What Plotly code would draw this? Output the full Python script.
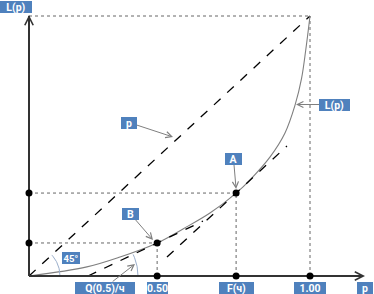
import numpy as np
import plotly.graph_objects as go

# ---- data ----
lorenz_p = [0.0, 0.206, 0.324, 0.456, 0.548, 0.644, 0.737, 0.786, 0.858, 0.911, 0.947, 0.970, 0.985, 1.0]
lorenz_L = [0.0, 0.035, 0.073, 0.127, 0.181, 0.242, 0.319, 0.369, 0.458, 0.550, 0.658, 0.760, 0.870, 1.0]
point_B = [0.456, 0.127]
point_A = [0.737, 0.319]
tangent_B_p = [0.210, 0.619]
tangent_A_p = [0.491, 0.918]
slope_A = 1.0
tick_p = [0.456, 0.737, 1.0]
tick_labels = ["0.50", "F(ч)", "1.00"]
other_labels = ["Q(0.5)/ч", "p", "L(p)", "45°", "A", "B"]

# ---- geometry helpers (pixel <-> data) ----
OX, OY, SX, SY = 29, 276, 281, 260
W, H = 374, 294
def px(x): return (x - OX) / SX
def py(y): return (OY - y) / SY

xr = [px(0), px(W)]
yr = [py(H), py(0)]

BLUE = "#4F81BD"
GRAY = "#7f7f7f"

fig = go.Figure()

# diagonal p
fig.add_trace(go.Scatter(x=[0, 1], y=[0, 1], mode="lines",
                         line=dict(color="black", width=1.3, dash="dash")))
# dotted guide lines
guides = [([0, 1], [1, 1]), ([1, 1], [0, 1]),
          ([0, point_A[0]], [point_A[1]] * 2), ([point_A[0]] * 2, [0, point_A[1]]),
          ([0, point_B[0]], [point_B[1]] * 2), ([point_B[0]] * 2, [0, point_B[1]])]
for gx, gy in guides:
    fig.add_trace(go.Scatter(x=gx, y=gy, mode="lines",
                             line=dict(color="#666666", width=1, dash="dot")))

# Lorenz curve
fig.add_trace(go.Scatter(x=lorenz_p, y=lorenz_L, mode="lines", line_shape="spline",
                         line=dict(color=GRAY, width=1.1, smoothing=1.0)))

# tangent at B
slope_B = point_B[1] / (point_B[0] - tangent_B_p[0])
tb_y = [point_B[1] + slope_B * (p - point_B[0]) for p in tangent_B_p]
fig.add_trace(go.Scatter(x=tangent_B_p, y=tb_y, mode="lines",
                         line=dict(color="black", width=1.3, dash="dash")))
# tangent at A
ta_y = [point_A[1] + slope_A * (p - point_A[0]) for p in tangent_A_p]
fig.add_trace(go.Scatter(x=tangent_A_p, y=ta_y, mode="lines",
                         line=dict(color="black", width=1.3, dash="dash")))

# angle arcs (drawn in pixel space)
def arc(cx, cy, r, a1):
    t = np.linspace(0, a1, 30)
    return (cx + r * np.cos(t) / SX, cy + r * np.sin(t) / SY)
ang45 = np.arctan(SY / SX)
ax1, ay1 = arc(0, 0, 31, ang45)
fig.add_trace(go.Scatter(x=ax1, y=ay1, mode="lines", line=dict(color="#9aaecb", width=1)))
angB = np.arctan(slope_B * SY / SX)
ax2, ay2 = arc(tangent_B_p[0], 0, 50, angB)
fig.add_trace(go.Scatter(x=ax2, y=ay2, mode="lines", line=dict(color="#9aaecb", width=1)))

# axes lines
fig.add_trace(go.Scatter(x=[0, px(363)], y=[0, 0], mode="lines", line=dict(color="#333333", width=2)))
fig.add_trace(go.Scatter(x=[0, 0], y=[0, py(16)], mode="lines", line=dict(color="#333333", width=2)))

# dots
dot_x = [0, 0] + tick_p + [point_A[0], point_B[0]]
dot_y = [point_A[1], point_B[1], 0, 0, 0, point_A[1], point_B[1]]
fig.add_trace(go.Scatter(x=dot_x, y=dot_y, mode="markers",
                         marker=dict(color="black", size=7)))

ann = []
# axis arrow heads
ann.append(dict(x=px(365), y=0, ax=px(340), ay=0, xref="x", yref="y", axref="x", ayref="y",
                text="", showarrow=True, arrowhead=5, arrowsize=1.1, arrowwidth=1.5, arrowcolor="#333333"))
ann.append(dict(x=0, y=py(15), ax=0, ay=py(40), xref="x", yref="y", axref="x", ayref="y",
                text="", showarrow=True, arrowhead=5, arrowsize=1.1, arrowwidth=1.5, arrowcolor="#333333"))

def box(text, cx, cy, w, tip=None, size=10.5):
    d = dict(text="<b>" + text + "</b>", xref="x", yref="y", bgcolor=BLUE,
             font=dict(family="Roboto", size=size, color="white"),
             width=w, height=12, valign="middle", borderpad=0, borderwidth=0, align="center")
    if tip is None:
        d.update(x=px(cx), y=py(cy), showarrow=False)
    else:
        d.update(x=tip[0], y=tip[1], ax=px(cx), ay=py(cy), axref="x", ayref="y",
                 showarrow=True, arrowhead=5, arrowsize=1.2, arrowwidth=1, arrowcolor=GRAY)
    ann.append(d)

box("L(p)", 16, 6.5, 32)
box(other_labels[2], 334.5, 104.5, 31, tip=(px(296), py(104.5)))
box(other_labels[1], 129, 122.5, 16, tip=(px(173), py(137)))
box(other_labels[4], 233.5, 159, 17, tip=(point_A[0], py(189)))
box(other_labels[5], 130.5, 214, 17, tip=(px(153), py(240)))
box(other_labels[3], 71, 258, 18, size=9.5)
box(other_labels[0], 105, 287.5, 60, tip=(px(135), py(264)))
label_w = [21, 35, 32]
for p, lab, w in zip(tick_p, tick_labels, label_w):
    box(lab, OX + p * SX, 287.5, w)
box(other_labels[1], 365, 287.5, 16)

fig.update_layout(width=W, height=H, margin=dict(l=0, r=0, t=0, b=0),
                  plot_bgcolor="white", paper_bgcolor="white", showlegend=False,
                  annotations=ann,
                  xaxis=dict(range=xr, visible=False, fixedrange=True),
                  yaxis=dict(range=yr, visible=False, fixedrange=True))
fig.write_html("out.html", config={"displayModeBar": False},
               post_script="document.body.style.margin='0';document.body.style.overflow='hidden';")
